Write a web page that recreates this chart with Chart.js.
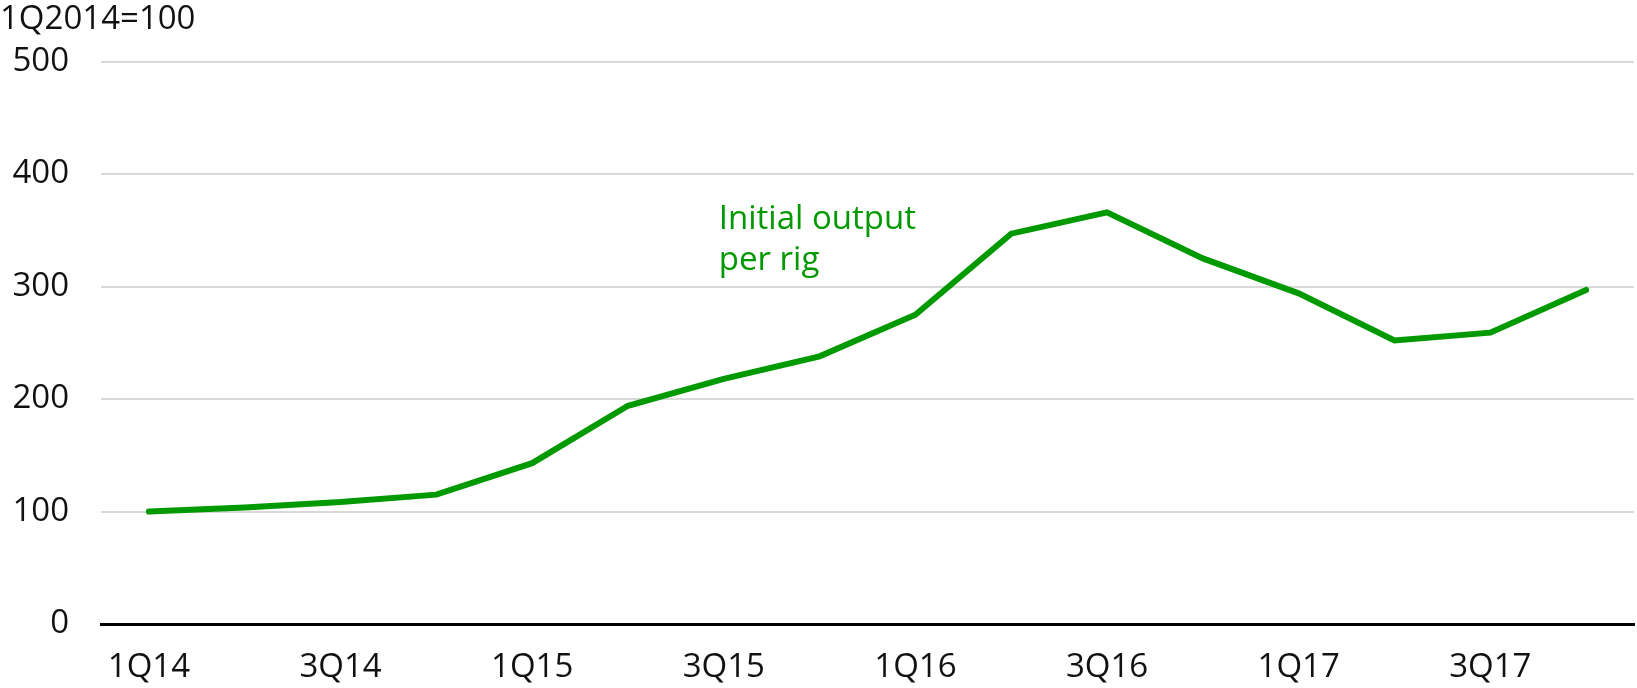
<!DOCTYPE html>
<html>
<head>
<meta charset="utf-8">
<script src="https://cdn.jsdelivr.net/npm/chart.js@4/dist/chart.umd.min.js"></script>
<style>
  html, body { margin: 0; padding: 0; background: #fff; }
  #wrap { width: 1637px; height: 688px; }
</style>
</head>
<body>
<div id="wrap"><canvas id="rig-chart" width="1637" height="688"></canvas></div>
<script>
// quarterly initial output per rig, indexed 1Q2014 = 100
const quarters = [
  "1Q14", "2Q14", "3Q14", "4Q14",
  "1Q15", "2Q15", "3Q15", "4Q15",
  "1Q16", "2Q16", "3Q16", "4Q16",
  "1Q17", "2Q17", "3Q17", "4Q17",
];
const outputPerRig = [
  100, 103.5, 108.5, 115,
  143, 194, 218, 238,
  275, 347, 366, 325,
  294, 252, 259, 297,
];
const yTicks = [0, 100, 200, 300, 400, 500];
const unitLabel = "1Q2014=100";
const seriesLabel = ["Initial output", "per rig"];

const GREEN = "#009900";
const FONT = "'Open Sans', Roboto, sans-serif";

// series name written next to the line, anchored on 3Q15
const seriesText = {
  id: "seriesText",
  afterDatasetsDraw(chart) {
    const ctx = chart.ctx;
    const x = chart.scales.x.getPixelForValue(6) - 5;
    const y = chart.scales.y;
    ctx.save();
    ctx.font = "33px " + FONT;
    ctx.fillStyle = GREEN;
    ctx.textAlign = "left";
    ctx.textBaseline = "alphabetic";
    ctx.fillText(seriesLabel[0], x, y.getPixelForValue(351));
    ctx.fillText(seriesLabel[1], x, y.getPixelForValue(315));
    ctx.restore();
  },
};

const ctx = document.getElementById("rig-chart").getContext("2d");
const rigChart = new Chart(ctx, {
  type: "line",
  data: {
    labels: quarters,
    datasets: [
      {
        label: "Initial output per rig",
        data: outputPerRig,
        borderColor: GREEN,
        backgroundColor: GREEN,
        borderWidth: 6,
        pointRadius: 0,
        tension: 0,
        borderCapStyle: "round",
        borderJoinStyle: "miter",
      },
    ],
  },
  options: {
    responsive: false,
    animation: false,
    layout: { padding: { top: 0, right: 3, bottom: 0, left: 0 } },
    plugins: {
      legend: { display: false },
      tooltip: { enabled: false },
      title: {
        display: true,
        text: unitLabel,
        align: "start",
        color: "#111",
        font: { family: FONT, size: 33, weight: "normal" },
        padding: { top: 0, bottom: 22 },
      },
    },
    scales: {
      x: {
        offset: true,
        grid: { display: false, drawTicks: false },
        border: { display: true, color: "#000", width: 3 },
        ticks: {
          autoSkip: false,
          maxRotation: 0,
          padding: 24,
          color: "#111",
          font: { family: FONT, size: 33 },
          callback: (v, i) => (i % 2 === 0 ? quarters[i] : ""),
        },
        afterFit(axis) { axis.height = 64; },
      },
      y: {
        min: 0,
        max: 500,
        afterBuildTicks(axis) { axis.ticks = yTicks.map((v) => ({ value: v })); },
        grid: { color: "#d9d9d9", lineWidth: 2, drawTicks: false },
        border: { display: false },
        ticks: {
          padding: 32,
          color: "#111",
          font: { family: FONT, size: 33 },
        },
        afterFit(axis) { axis.width = 101; },
      },
    },
  },
  plugins: [seriesText],
});
</script>
</body>
</html>
